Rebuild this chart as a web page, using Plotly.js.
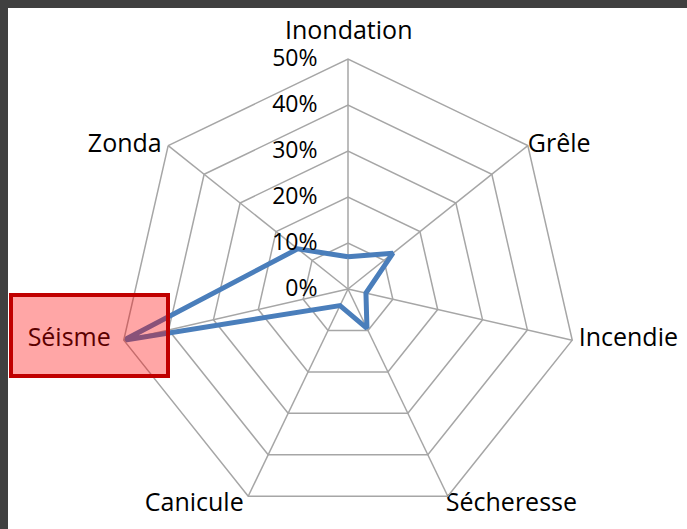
<!DOCTYPE html>
<html>
<head>
<meta charset="utf-8">
<script src="https://cdn.plot.ly/plotly-3.0.1.min.js"></script>
<style>html,body{margin:0;padding:0;background:#fff;}#chart{width:687px;height:529px;}</style>
</head>
<body>
<div id="chart"></div>
<script>
var categories = ["Inondation", "Grêle", "Incendie", "Sécheresse", "Canicule", "Séisme", "Zonda"];
var values = [0.07, 0.125, 0.04, 0.095, 0.04, 0.50, 0.14];
var tickValues = [0, 0.1, 0.2, 0.3, 0.4, 0.5];
var tickLabels = ["0%", "10%", "20%", "30%", "40%", "50%"];

// label placement (style only)
var labelRadius = [0.5, 0.5, 0.5, 0.49, 0.49, 0.5, 0.5];
var labelPosition = ["top center", "middle right", "middle right", "bottom right", "bottom left", "middle left", "middle left"];
var labelPadLeft = ["", "", "\u00a0", "", "", "", ""];
var labelPadRight = ["", "", "", "", "\u00a0", "\u00a0\u00a0", "\u00a0"];

var W = 687, H = 529;
var cx = 348, cy = 289, R = 230;
function px(x){ return x / W; }
function py(y){ return 1 - y / H; }

var font = "'Open Sans', 'Noto Sans', sans-serif";

var trace = {
  type: "scatterpolar",
  r: values.concat([values[0]]),
  theta: categories.concat([categories[0]]),
  mode: "lines",
  line: {color: "#4A7EBB", width: 5},
  hoverinfo: "skip"
};

var labels = {
  type: "scatterpolar",
  r: labelRadius.slice(1),
  theta: categories.slice(1),
  mode: "text",
  text: categories.slice(1).map(function(c, i){ return labelPadLeft[i + 1] + c + labelPadRight[i + 1]; }),
  textposition: labelPosition.slice(1),
  textfont: {family: font, size: 25, color: "#000"},
  cliponaxis: false,
  hoverinfo: "skip"
};

var layout = {
  width: W, height: H,
  margin: {l: 0, r: 0, t: 0, b: 0},
  paper_bgcolor: "#ffffff",
  plot_bgcolor: "#ffffff",
  showlegend: false,
  font: {family: font, size: 23, color: "#000"},
  polar: {
    domain: {x: [px(cx - R), px(cx + R)], y: [py(cy + R), py(cy - R)]},
    bgcolor: "#ffffff",
    gridshape: "linear",
    angularaxis: {
      direction: "clockwise",
      rotation: 90,
      showline: true,
      linecolor: "#A6A6A6",
      linewidth: 1.5,
      gridcolor: "#A6A6A6",
      gridwidth: 1.5,
      ticks: "",
      showticklabels: false
    },
    radialaxis: {
      range: [0, 0.5],
      angle: 90,
      tickangle: 90,
      tickvals: tickValues,
      ticktext: tickLabels,
      showline: false,
      gridcolor: "#A6A6A6",
      gridwidth: 1.5,
      ticks: "outside",
      ticklen: 22,
      tickcolor: "rgba(0,0,0,0)",
      side: "counterclockwise",
      tickfont: {family: font, size: 23, color: "#000"}
    }
  },
  annotations: [
    {xref: "paper", yref: "paper", x: px(cx), y: py(cy - R), xanchor: "center", yanchor: "bottom",
     yshift: 11, showarrow: false, text: categories[0],
     font: {family: font, size: 25, color: "#000"}}
  ],
  shapes: [
    {type: "rect", xref: "paper", yref: "paper", x0: 0, x1: 1, y0: py(8), y1: 1,
     fillcolor: "#404040", line: {width: 0}, layer: "above"},
    {type: "rect", xref: "paper", yref: "paper", x0: 0, x1: px(8), y0: 0, y1: 1,
     fillcolor: "#404040", line: {width: 0}, layer: "above"},
    {type: "rect", xref: "paper", yref: "paper", x0: px(11), x1: px(168), y0: py(376), y1: py(295),
     fillcolor: "rgba(255,0,0,0.35)", line: {color: "#C00000", width: 4}, layer: "above"}
  ]
};

Plotly.newPlot("chart", [trace, labels], layout, {displayModeBar: false, staticPlot: true});
</script>
</body>
</html>
